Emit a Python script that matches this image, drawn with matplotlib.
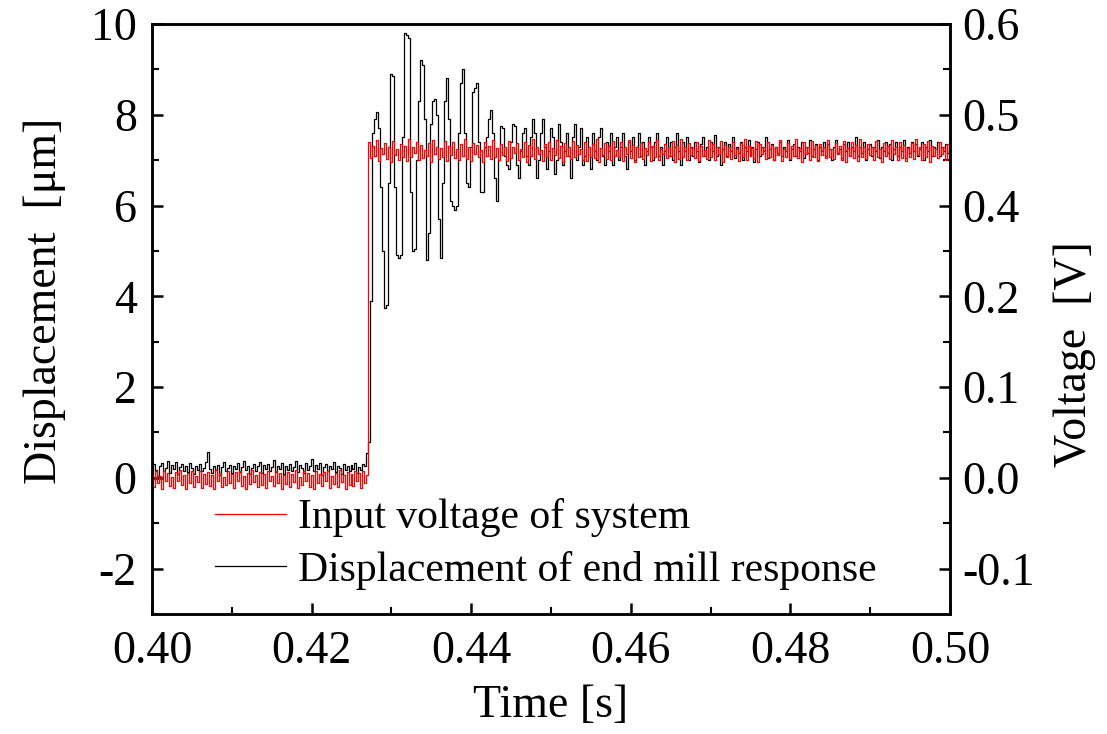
import numpy as np
import matplotlib.pyplot as plt
from matplotlib.ticker import MultipleLocator, FixedLocator, FormatStrFormatter

plt.rcParams['font.family'] = ['Liberation Serif', 'DejaVu Serif']
plt.rcParams['axes.unicode_minus'] = False

# sampling of the recorded signals
t_start = 0.400
dt = 0.00025

# displacement of end mill [um]
disp_rest = [
    0.12, 0.30, 0.18, 0.05, 0.25, 0.32, 0.15, 0.22, 0.38, 0.10,
    0.28, 0.20, 0.35, 0.08, 0.24, 0.30, 0.16, 0.26, 0.12, 0.33,
    0.21, 0.09, 0.27, 0.18, 0.31, 0.14, 0.22, 0.36, 0.57, 0.20,
    0.11, 0.25, 0.17, 0.29, 0.06, 0.23, 0.34, 0.15, 0.21, 0.28,
    0.10, 0.26, 0.19, 0.32, 0.13, 0.24, 0.38, 0.17, 0.27, 0.08,
    0.22, 0.30, 0.14, 0.25, 0.35, 0.11, 0.28, 0.19, 0.31, 0.16,
    0.24, 0.40, 0.12, 0.27, 0.20, 0.33, 0.09, 0.26, 0.18, 0.30,
    0.15, 0.23, 0.37, 0.13, 0.29, 0.21, 0.10, 0.32, 0.17, 0.25,
    0.42, 0.14, 0.28, 0.20, 0.33, 0.07, 0.24, 0.31, 0.16, 0.26,
    0.19, 0.35, 0.12, 0.27, 0.22, 0.09, 0.30, 0.18, 0.25, 0.14,
    0.28, 0.20, 0.33, 0.11, 0.24, 0.17, 0.30,
]
disp_transient = [
    0.25, 0.55, 0.8, 3.9, 7.6, 7.9, 8.05, 7.7, 6.4, 5.0,
    3.75, 3.8, 6.5, 8.9, 8.85, 6.4, 4.9, 4.85, 4.9, 7.5,
    9.8, 9.75, 9.7, 6.3, 5.0, 5.05, 7.0, 8.3, 9.2, 9.1,
    7.9, 4.8, 5.4, 7.8, 8.3, 8.35, 8.0, 5.7, 4.85, 6.5,
    8.3, 8.8, 7.9, 6.1, 6.0, 5.9, 6.0, 7.6, 8.7, 9.0,
    7.6, 6.5, 6.4, 7.3, 8.5, 8.6, 8.7, 7.4, 6.3, 6.3,
    7.3, 7.5, 7.9, 8.1, 7.6, 6.6, 6.1, 7.0, 7.75, 7.7,
    7.1, 6.9, 6.8, 7.4, 7.8, 7.75, 6.9, 6.6, 7.2, 7.6,
    7.7, 7.1, 6.9, 7.5, 7.9, 7.6, 6.6, 7.0,
]
disp_settled = [
    7.6, 7.9, 7.3, 6.8, 7.2, 7.7, 7.5, 6.7, 7.0, 7.8,
    7.4, 6.9, 7.2, 7.6, 7.1, 6.6, 7.5, 7.8, 7.0, 7.3,
    7.7, 6.9, 7.1, 7.5, 7.3, 6.8, 7.6, 7.2, 7.0, 7.5,
    7.7, 7.1, 6.9, 7.4, 7.2, 7.6, 6.9, 7.3, 7.5, 7.0,
    7.3, 7.6, 7.1, 6.8, 7.4, 7.2, 7.5, 7.0, 7.3, 7.6,
    7.1, 7.4, 6.9, 7.2, 7.5, 7.3, 7.0, 7.4, 7.6, 7.1,
    7.3, 6.9, 7.2, 7.5, 7.1, 7.4, 7.0, 7.3, 7.6, 7.2,
    6.9, 7.4, 7.2, 7.5, 7.0, 7.3, 7.1, 7.4, 7.2, 6.95,
    7.35, 7.5, 7.1, 7.3, 7.0, 7.4, 7.2, 7.55, 7.1, 7.3,
    6.9, 7.25, 7.4, 7.1, 7.35, 7.2, 7.5, 7.05, 7.3, 7.15,
    7.4, 7.0, 7.3, 7.2, 7.45, 7.1, 7.3, 6.95, 7.25, 7.4,
    7.1, 7.3, 7.2, 7.5, 7.05, 7.25, 7.35, 7.0, 7.3, 7.15,
    7.4, 7.1, 7.3, 7.2, 7.45, 7.0, 7.25, 7.35, 7.1, 7.3,
    7.2, 7.4, 7.05, 7.3, 7.15, 7.45, 7.1, 7.25, 7.35, 7.0,
    7.3, 7.2, 7.4, 7.1, 7.35, 7.25, 7.0, 7.3, 7.45, 7.15,
    7.25, 7.05, 7.35, 7.2, 7.4, 7.1, 7.3, 7.2, 7.5, 7.1,
    7.3, 7.15, 7.4, 7.0, 7.25, 7.35, 7.1, 7.3, 7.2, 7.45,
    7.05, 7.3, 7.2, 7.4, 7.15, 7.35, 7.0, 7.25, 7.4, 7.1,
    7.3, 7.2, 7.45, 7.05, 7.3, 7.15, 7.4, 7.2, 7.35, 7.1,
    7.25, 7.4, 7.0, 7.3, 7.2, 7.45, 7.1, 7.3, 7.25, 7.4,
    7.1, 7.3, 7.2, 7.35, 7.15, 7.25,
]

# input voltage [V]
volt_rest = [
    0.004, -0.010, 0.007, -0.006, 0.002, -0.012, 0.008, -0.004, 0.005, -0.009,
    0.001, -0.011, 0.006, -0.003, 0.009, -0.008, 0.003, -0.012, 0.005, -0.006,
    0.007, -0.010, 0.002, -0.005, 0.008, -0.011, 0.004, -0.007, 0.006, -0.009,
    0.003, -0.012, 0.009, -0.004, 0.005, -0.010, 0.001, -0.008, 0.007, -0.006,
    0.004, -0.011, 0.006, -0.003, 0.008, -0.009, 0.002, -0.012, 0.005, -0.007,
    0.009, -0.005, 0.003, -0.010, 0.006, -0.008, 0.004, -0.011, 0.007, -0.004,
    0.002, -0.009, 0.008, -0.006, 0.005, -0.012, 0.003, -0.007, 0.006, -0.010,
    0.004, -0.005, 0.009, -0.011, 0.001, -0.008, 0.007, -0.004, 0.005, -0.010,
    0.003, -0.012, 0.008, -0.006, 0.004, -0.009, 0.006, -0.003, 0.007, -0.011,
    0.002, -0.007, 0.005, -0.010, 0.009, -0.005, 0.003, -0.012, 0.006, -0.008,
    0.004, -0.009, 0.007, -0.004, 0.005, -0.011, 0.008, -0.006, 0.003,
]
volt_step = [
    0.470, 0.452, 0.466, 0.455, 0.472, 0.449, 0.463, 0.457, 0.469, 0.451,
    0.465, 0.448, 0.471, 0.456, 0.462, 0.450, 0.468, 0.454, 0.466, 0.449,
    0.473, 0.453, 0.464, 0.458, 0.470, 0.450, 0.467, 0.452, 0.461, 0.455,
    0.469, 0.448, 0.472, 0.457, 0.465, 0.451, 0.463, 0.454, 0.471, 0.449,
    0.466, 0.456, 0.470, 0.452, 0.462, 0.450, 0.468, 0.455, 0.473, 0.451,
    0.464, 0.449, 0.469, 0.457, 0.467, 0.453, 0.461, 0.448, 0.470, 0.455,
    0.466, 0.451, 0.472, 0.454, 0.463, 0.450, 0.468, 0.456, 0.465, 0.449,
    0.471, 0.452, 0.464, 0.458, 0.469, 0.450, 0.462, 0.453, 0.470, 0.448,
    0.467, 0.455, 0.473, 0.451, 0.465, 0.457, 0.461, 0.449, 0.468, 0.454,
    0.470, 0.450, 0.463, 0.456, 0.472, 0.452, 0.466, 0.448, 0.469, 0.455,
    0.464, 0.451, 0.471, 0.453, 0.467, 0.457, 0.462, 0.450, 0.470, 0.449,
    0.465, 0.454, 0.468, 0.452, 0.473, 0.448, 0.463, 0.456, 0.469, 0.451,
    0.466, 0.450, 0.471, 0.455, 0.461, 0.453, 0.470, 0.449, 0.464, 0.457,
    0.472, 0.452, 0.467, 0.448, 0.465, 0.454, 0.469, 0.451, 0.463, 0.456,
    0.470, 0.449, 0.466, 0.453, 0.472, 0.450, 0.462, 0.457, 0.468, 0.452,
    0.464, 0.455, 0.471, 0.448, 0.467, 0.451, 0.473, 0.454, 0.465, 0.450,
    0.469, 0.456, 0.463, 0.452, 0.470, 0.449, 0.466, 0.455, 0.461, 0.451,
    0.472, 0.453, 0.468, 0.450, 0.464, 0.457, 0.471, 0.448, 0.467, 0.454,
    0.465, 0.451, 0.470, 0.456, 0.462, 0.449, 0.469, 0.453, 0.473, 0.450,
    0.466, 0.455, 0.463, 0.452, 0.471, 0.448, 0.468, 0.457, 0.464, 0.451,
    0.470, 0.454, 0.467, 0.450, 0.465, 0.456, 0.472, 0.449, 0.462, 0.453,
    0.469, 0.451, 0.466, 0.455, 0.473, 0.452, 0.463, 0.448, 0.470, 0.457,
    0.464, 0.450, 0.471, 0.453, 0.467, 0.449, 0.468, 0.456, 0.465, 0.452,
    0.472, 0.454, 0.462, 0.451, 0.469, 0.457, 0.466, 0.450, 0.471, 0.448,
    0.463, 0.455, 0.470, 0.452, 0.467, 0.449, 0.473, 0.454, 0.464, 0.451,
    0.468, 0.456, 0.465, 0.450, 0.471, 0.453, 0.462, 0.448, 0.469, 0.455,
    0.466, 0.451, 0.472, 0.457, 0.464, 0.450, 0.470, 0.452, 0.467, 0.449,
    0.463, 0.454, 0.469, 0.451, 0.473, 0.456, 0.465, 0.450, 0.468, 0.453,
    0.471, 0.448, 0.466, 0.455, 0.462, 0.452, 0.470, 0.457, 0.464, 0.450,
    0.468, 0.454,
]

time_ticks = [0.40, 0.42, 0.44, 0.46, 0.48, 0.50]
disp_ticks = [-2, 0, 2, 4, 6, 8, 10]
# the voltage axis of the original is labelled unevenly against the displacement grid
volt_ticks = [-0.1, 0.0, 0.1, 0.2, 0.4, 0.5, 0.6]
volt_minor = [-0.05, 0.05, 0.15, 0.3, 0.45, 0.55]

displacement = np.array(disp_rest + disp_transient + disp_settled)
voltage = np.array(volt_rest + volt_step)
t = t_start + dt * np.arange(len(displacement))

fig = plt.figure(figsize=(11.07, 7.34), dpi=100)
ax = fig.add_axes([152 / 1107, 120 / 734, 798 / 1107, 590 / 734])
ax2 = ax.twinx()

line_d, = ax.plot(t, displacement, color='black', lw=0.9, drawstyle='steps-mid')
ax.set_xlim(0.40, 0.50)
ax.set_ylim(-3, 10)

# piecewise voltage scale so that the right labels sit where the original has them
v_knots = [-0.15] + volt_ticks
d_knots = [-3] + disp_ticks
ax2.set_yscale('function', functions=(lambda v: np.interp(v, v_knots, d_knots),
                                      lambda d: np.interp(d, d_knots, v_knots)))
line_v, = ax2.plot(t[:len(voltage)], voltage, color='red', lw=0.9, drawstyle='steps-mid')
ax2.set_ylim(-0.15, 0.6)

ax.xaxis.set_major_locator(FixedLocator(time_ticks))
ax.xaxis.set_minor_locator(MultipleLocator(0.01))
ax.xaxis.set_major_formatter(FormatStrFormatter('%.2f'))
ax.yaxis.set_major_locator(FixedLocator(disp_ticks))
ax.yaxis.set_minor_locator(MultipleLocator(1))
ax2.yaxis.set_major_locator(FixedLocator(volt_ticks))
ax2.yaxis.set_minor_locator(FixedLocator(volt_minor))
ax2.yaxis.set_major_formatter(FormatStrFormatter('%.1f'))

for a in (ax, ax2):
    for s in a.spines.values():
        s.set_linewidth(1.8)
    a.tick_params(which='major', direction='in', length=8, width=1.8, labelsize=33)
    a.tick_params(which='minor', direction='in', length=5, width=1.5)
ax.tick_params(axis='x', which='both', top=False, pad=12)
ax.tick_params(axis='y', which='both', right=False, pad=11)
ax2.tick_params(axis='y', which='both', pad=9)

ax.set_xlabel('Time [s]', fontsize=33, labelpad=8)
ax.set_ylabel('Displacement  [μm]', fontsize=33)
ax.yaxis.set_label_coords(-0.108, 0.53)
ax2.set_ylabel('Voltage  [V]', fontsize=33)
ax2.yaxis.set_label_coords(1.13, 0.44)

ax2.legend([line_v, line_d], ['Input voltage of system', 'Displacement of end mill response'],
           loc='center left', bbox_to_anchor=(0.079, 0.1186), frameon=False,
           fontsize=30, handlelength=1.7, handletextpad=0.3, labelspacing=0.32,
           borderpad=0, borderaxespad=0)

fig.savefig('out.png', dpi=100)
